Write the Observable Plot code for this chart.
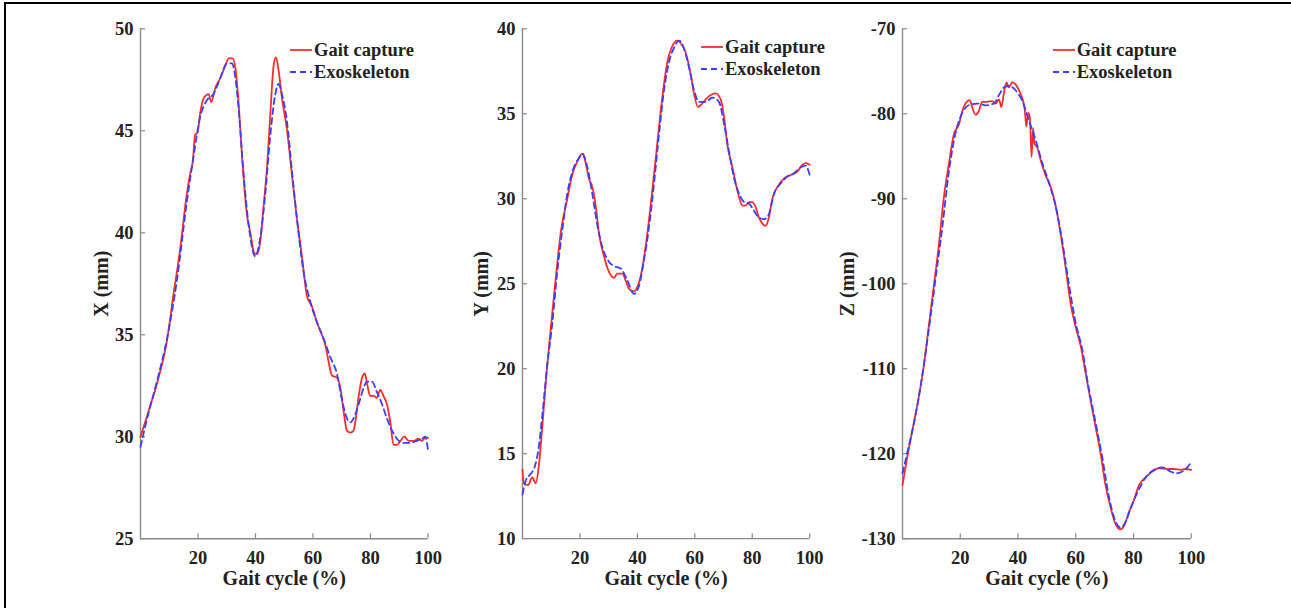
<!DOCTYPE html>
<html>
<head>
<meta charset="utf-8">
<script src="https://cdn.jsdelivr.net/npm/d3@7"></script>
<script src="https://cdn.jsdelivr.net/npm/@observablehq/plot@0.6"></script>
<style>
html, body { margin: 0; padding: 0; background: #fff; }
#root { position: relative; width: 1291px; height: 608px; overflow: hidden; background: #fff; }
.frame-top { position: absolute; left: 4px; top: 2px; width: 1287px; height: 2px; background: #000; }
.frame-left { position: absolute; left: 4px; top: 2px; width: 2px; height: 606px; background: #000; }
.panel { position: absolute; top: 0; }
.legend-row { position: absolute; height: 22px; display: flex; align-items: center; white-space: nowrap;
  font-family: "Liberation Serif", "Times New Roman", serif; font-weight: bold; font-size: 18.5px; color: #222; }
.legend-row svg { display: block; margin-right: 2px; }
</style>
</head>
<body>
<div id="root">
  <div class="frame-top"></div>
  <div class="frame-left"></div>
</div>
<script>
// ---------- data (gait cycle %, mm) ----------
const xTicks = [20, 40, 60, 80, 100];
const seriesNames = ["Gait capture", "Exoskeleton"];

const gaitX = [[0,30.0],[2.8,31.25],[5.7,32.6],[9.2,34.7],[11.5,37.0],[13.8,39.2],[16.1,41.9],[17.3,42.9],[18.2,43.5],[19.0,44.8],[19.8,44.9],[20.8,45.9],[22,46.6],[23.7,46.8],[24.6,46.4],[26,47.1],[27.8,47.6],[29.5,48.2],[30.7,48.55],[32,48.55],[33,48.1],[34.1,46.4],[35.3,43.8],[37,40.9],[38.2,40.0],[39.6,39.0],[40.5,38.95],[41.7,39.6],[42.8,41.3],[44,43.2],[45.1,45.7],[46.3,48.2],[47.1,48.6],[48,48.0],[49.2,46.6],[50.9,45.1],[52.7,42.8],[54.4,40.7],[56.2,38.8],[57.9,36.9],[59.6,36.4],[61.4,35.6],[63.1,35.0],[64.3,34.5],[65.4,33.7],[66.6,33.0],[68.3,32.9],[69.5,32.4],[70.7,31.2],[71.8,30.3],[73,30.2],[74.1,30.3],[74.7,30.7],[75.9,32.0],[77,32.85],[78,33.1],[78.8,32.6],[79.9,32.0],[81.1,32.0],[82.2,31.9],[83.4,32.3],[84.5,32.0],[85.7,31.6],[86.9,30.7],[88,29.6],[89.2,29.6],[90.4,29.8],[91.8,30.0],[93.3,29.8],[95,29.8],[96.8,29.9],[97.9,29.8],[99.1,29.95],[100,29.95]];
const exoX = [[0,29.5],[2.3,30.9],[5.7,32.7],[9.2,34.8],[12.7,37.7],[16.1,41.5],[18.5,43.8],[20.8,45.7],[23.1,46.5],[25.4,46.8],[27.8,47.6],[30.1,48.3],[31.8,48.3],[33,47.6],[34.1,46.1],[35.9,42.8],[37.6,40.4],[39.9,38.85],[41.7,39.8],[43.4,41.9],[45.1,44.7],[46.9,46.8],[48,47.3],[49.2,46.8],[50.9,45.5],[52.7,43.0],[54.4,40.7],[56.7,38.1],[59.1,36.6],[61.4,35.6],[63.7,34.8],[66,33.9],[68.3,33.1],[70.1,31.8],[71.8,30.9],[73,30.7],[74.1,30.9],[75.9,31.6],[77.6,32.4],[78.8,32.7],[80.5,32.7],[82.2,32.2],[84,31.6],[85.7,30.9],[87.5,30.3],[89.2,29.9],[91.5,29.7],[93.8,29.7],[96.1,29.8],[97.9,29.9],[99.1,30.0],[100,29.3]];

const gaitY = [[0,14.06],[0.5,13.26],[1.9,13.15],[3.4,13.6],[4.6,13.26],[5.7,14.3],[6.9,16.6],[8.4,19.8],[9.8,22.3],[11.5,25.2],[13.3,28.0],[15.6,30.0],[17.3,31.4],[19.1,32.2],[20.8,32.65],[22,32.1],[23.1,31.2],[24.3,30.7],[25.5,29.6],[26.6,28.0],[28.4,26.6],[30.1,25.7],[31.9,25.35],[33,25.6],[34.8,25.6],[35.9,25.2],[37.1,24.7],[38.8,24.55],[40,24.8],[41.7,25.9],[43.5,28.0],[45.2,30.5],[46.9,33.2],[48.7,36.0],[50.4,38.0],[52.2,39.0],[53.9,39.3],[55.1,39.15],[56.8,38.6],[58.6,37.3],[59.7,36.2],[61.1,35.4],[62,35.5],[63.8,35.85],[65.5,36.1],[67.2,36.2],[69,35.85],[70.2,34.8],[71.3,33.2],[73.1,31.85],[74.8,30.5],[76.6,29.6],[77.7,29.6],[78.9,29.8],[80,29.8],[81.2,29.5],[82.3,28.9],[83.5,28.55],[84.6,28.4],[85.8,28.9],[87,30.0],[88.8,30.7],[91.1,31.2],[93.4,31.4],[95.7,31.6],[97.5,32.0],[98.6,32.1],[100,32.0]];
const exoY = [[0,12.6],[1.1,13.4],[2.8,13.8],[4.2,14.2],[5.5,15.2],[6.9,17.25],[8.6,20.2],[10.4,22.7],[12.1,25.7],[13.9,28.2],[15.6,30.3],[17.9,31.85],[19.7,32.4],[20.8,32.65],[22.6,31.85],[24.3,30.3],[26.1,28.4],[27.9,27.1],[30.1,26.3],[32.4,26.0],[34.2,25.9],[36.5,25.2],[38.8,24.4],[40.6,24.9],[42.3,26.4],[44.1,28.4],[45.8,30.9],[47.6,33.9],[49.3,36.4],[51.1,38.1],[52.8,38.9],[54.5,39.3],[56.3,38.8],[58,37.7],[59.7,36.4],[61.5,35.7],[63.8,35.7],[66.1,35.95],[68.4,35.7],[70.2,34.4],[71.9,32.8],[73.7,31.2],[75.4,30.3],[77.2,29.8],[78.9,29.7],[80.6,29.3],[82.3,28.9],[84.1,28.8],[85.8,29.1],[87.6,30.3],[89.9,30.9],[92.2,31.3],[94.5,31.5],[96.9,31.85],[98.6,31.95],[100,31.4]];

const gaitZ = [[0,-123.7],[1.6,-120.5],[3.9,-116.4],[5.7,-113.2],[7.4,-109.6],[9.1,-105],[10.8,-100.4],[12.6,-95.4],[14.3,-89.9],[16.1,-85.8],[17.8,-82.4],[19.5,-81.3],[20.7,-79.7],[21.8,-78.8],[23.3,-78.4],[24.1,-79.2],[25.3,-80.1],[26.4,-79.7],[27.6,-78.6],[29.3,-78.6],[31.1,-78.5],[32.2,-78.8],[33.4,-78.3],[34.2,-79.2],[35.1,-77.6],[36,-76.3],[36.8,-76.9],[38,-76.3],[39.1,-76.5],[40.3,-77.2],[41.4,-78.1],[42.3,-79.4],[42.9,-81.5],[43.5,-79.9],[44.1,-80.4],[44.7,-85.1],[45.2,-81.7],[45.7,-83.5],[46.7,-84],[47.8,-85.4],[49.5,-87.2],[51.3,-88.6],[53,-90.8],[54.7,-94],[56.5,-98.1],[58.2,-102.3],[59.9,-105],[61.7,-107.3],[63.4,-110.5],[65.1,-113.7],[66.9,-116.9],[68.6,-120],[70.3,-123.7],[72.1,-126.4],[73.8,-128.3],[75.3,-128.9],[76.7,-128.5],[78.4,-126.9],[80.1,-125.5],[81.9,-123.7],[84.2,-122.8],[86.5,-122.1],[88.8,-121.7],[91.7,-121.8],[94,-121.8],[96.3,-121.9],[98,-121.8],[100,-121.9]];
const exoZ = [[0,-122.3],[2.2,-119.1],[4.5,-115.5],[6.8,-110.9],[9.1,-105.4],[11.4,-99.5],[13.7,-93.6],[16.1,-86.7],[18.4,-82.2],[20.7,-79.9],[22.9,-79],[25.9,-78.8],[28.8,-79],[31.6,-78.8],[33.4,-77.8],[35.1,-76.9],[36.8,-76.7],[39.1,-77.2],[41.5,-78.5],[43.8,-80.8],[46.1,-83.1],[48.4,-85.8],[50.7,-88.1],[53,-90.8],[55.3,-95],[57.6,-100],[59.9,-104.5],[62.2,-107.7],[64.5,-112.3],[66.9,-116.4],[69.2,-120.5],[71.5,-125.1],[73.8,-128],[75.5,-128.7],[77.3,-128],[79,-126.4],[81.3,-124.6],[84.2,-122.8],[87.1,-121.9],[89.9,-121.6],[92.8,-122.1],[95.1,-122.3],[96.9,-122.1],[98.6,-121.6],[100,-121]];

const yTicksX = [25, 30, 35, 40, 45, 50];
const yTicksY = [10, 15, 20, 25, 30, 35, 40];
const yTicksZ = [-130, -120, -110, -100, -90, -80, -70];

// ---------- styling ----------
const RED = "#ff2b2b";
const BLUE = "#3d3dff";
const AXIS = "#8a8a8a";
const TEXT = "#222";
const FONT = "'Liberation Serif', 'Times New Roman', serif";
const H = 608, MT = 28.3, MB = 69.8, ML = 110;

const panels = [
  {left: 30.2, plotW: 287.5, domain: [25, 50], ticks: yTicksX, label: "X (mm)", labelOffset: 47, gait: gaitX, exo: exoX, legendX: 290, legendY: 50.4},
  {left: 411.9, plotW: 287.2, domain: [10, 40], ticks: yTicksY, label: "Y (mm)", labelOffset: 49, gait: gaitY, exo: exoY, legendX: 701, legendY: 47.3},
  {left: 792, plotW: 288.8, domain: [-130, -70], ticks: yTicksZ, label: "Z (mm)", labelOffset: 63, gait: gaitZ, exo: exoZ, legendX: 1052.7, legendY: 50.4}
];

const root = document.getElementById("root");
const plotH = H - MT - MB;

for (const p of panels) {
  const W = ML + p.plotW + 22;
  const chart = Plot.plot({
    width: W, height: H,
    marginLeft: ML, marginRight: W - ML - p.plotW, marginTop: MT, marginBottom: MB,
    x: {domain: [0, 100]},
    y: {domain: p.domain},
    style: {background: "none", overflow: "visible"},
    marks: [
      Plot.ruleX([0], {stroke: AXIS, strokeWidth: 1.4}),
      Plot.ruleY([p.domain[0]], {stroke: AXIS, strokeWidth: 1.4}),
      Plot.tickY(p.ticks, {y: d => d, stroke: AXIS, strokeWidth: 1.2, insetRight: p.plotW - 5}),
      Plot.tickX(xTicks, {x: d => d, stroke: AXIS, strokeWidth: 1.2, insetTop: plotH - 5}),
      Plot.axisY({ticks: p.ticks, tickSize: 0, tickPadding: 7, tickFormat: d => String(d), label: null,
        fontSize: 18.5, fontWeight: "bold", fontFamily: FONT, fill: TEXT}),
      Plot.axisY({ticks: [], tickSize: 0, label: p.label, labelAnchor: "center", labelArrow: "none", labelOffset: p.labelOffset,
        fontSize: 20, fontWeight: "bold", fontFamily: FONT, fill: TEXT}),
      Plot.axisX({ticks: xTicks, tickSize: 0, tickPadding: 12, tickFormat: d => String(d), label: null,
        fontSize: 18.5, fontWeight: "bold", fontFamily: FONT, fill: TEXT}),
      Plot.axisX({ticks: [], tickSize: 0, label: "Gait cycle (%)", labelAnchor: "center", labelArrow: "none", labelOffset: 46,
        fontSize: 20, fontWeight: "bold", fontFamily: FONT, fill: TEXT}),
      Plot.line(p.gait, {x: d => d[0], y: d => d[1], stroke: RED, strokeWidth: 1.8, curve: "monotone-x"}),
      Plot.line(p.exo, {x: d => d[0], y: d => d[1], stroke: BLUE, strokeWidth: 1.8, strokeDasharray: "6,4", curve: "monotone-x"})
    ]
  });
  chart.classList.add("panel");
  chart.style.left = p.left + "px";
  root.appendChild(chart);

  // legend
  const rows = [
    {name: seriesNames[0], color: RED, dash: null, y: p.legendY},
    {name: seriesNames[1], color: BLUE, dash: "6,4", y: p.legendY + 22}
  ];
  for (const r of rows) {
    const div = document.createElement("div");
    div.className = "legend-row";
    div.style.left = p.legendX + "px";
    div.style.top = (r.y - 11) + "px";
    div.innerHTML = `<svg width="22" height="22"><line x1="0" x2="22" y1="11" y2="11" stroke="${r.color}" stroke-width="1.8" ${r.dash ? `stroke-dasharray="${r.dash}"` : ""}/></svg><span>${r.name}</span>`;
    root.appendChild(div);
  }
}
</script>
</body>
</html>
